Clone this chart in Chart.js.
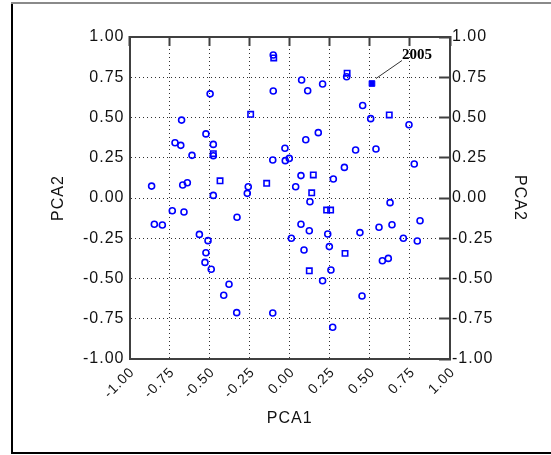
<!DOCTYPE html>
<html>
<head>
<meta charset="utf-8">
<script src="https://cdn.jsdelivr.net/npm/chart.js@4.4.0/dist/chart.umd.min.js"></script>
<style>
  html, body { margin: 0; padding: 0; background: #fff; }
  canvas { display: block; }
</style>
</head>
<body>
<canvas id="pcaChart" width="551" height="455"></canvas>
<script>
// both axes run -1 .. 1
const axisTicks = [-1.00, -0.75, -0.50, -0.25, 0.00, 0.25, 0.50, 0.75, 1.00];

// open circles
const circleX = [-0.103, 0.355, 0.074, 0.205, 0.112, -0.103, -0.497, 0.455, -0.675, 0.505,
  0.744, 0.178, -0.523, 0.100, -0.477, -0.716, -0.680, -0.030, 0.538, 0.411,
  -0.477, -0.610, -0.106, -0.003, -0.028, 0.777, 0.341, 0.070, 0.272, -0.668,
  -0.639, -0.862, -0.259, 0.037, -0.265, -0.477, 0.126, 0.626, -0.733, -0.660,
  -0.329, 0.813, -0.845, -0.795, 0.070, 0.638, 0.557, 0.122, 0.438, 0.237,
  -0.564, -0.510, 0.010, 0.709, 0.796, 0.247, 0.089, -0.523, 0.615, 0.578,
  -0.529, -0.490, 0.257, 0.205, -0.379, -0.412, 0.451, -0.331, -0.106, 0.268];
const circleY = [0.888, 0.753, 0.733, 0.708, 0.666, 0.665, 0.647, 0.575, 0.484, 0.493,
  0.455, 0.406, 0.398, 0.362, 0.333, 0.343, 0.327, 0.309, 0.304, 0.298,
  0.262, 0.265, 0.236, 0.246, 0.232, 0.211, 0.190, 0.139, 0.118, 0.081,
  0.095, 0.074, 0.070, 0.070, 0.029, 0.016, -0.023, -0.029, -0.079, -0.087,
  -0.120, -0.141, -0.163, -0.168, -0.163, -0.166, -0.182, -0.203, -0.215, -0.224,
  -0.226, -0.265, -0.250, -0.250, -0.267, -0.302, -0.323, -0.340, -0.375, -0.390,
  -0.400, -0.443, -0.447, -0.514, -0.536, -0.604, -0.609, -0.712, -0.714, -0.803];

// open squares
const squareX = [-0.100, 0.358, -0.244, 0.621, -0.477, 0.147, -0.435, -0.144, 0.137, 0.230, 0.255, 0.345, 0.122];
const squareY = [0.870, 0.775, 0.520, 0.516, 0.275, 0.143, 0.107, 0.091, 0.032, -0.075, -0.075, -0.344, -0.452];

// highlighted year
const markLabel = '2005';
const markX = [0.513];
const markY = [0.711];

const toPoints = (xs, ys) => xs.map((x, i) => ({ x: x, y: ys[i] }));

const labelFont = { family: '"Liberation Sans", Arial, sans-serif', size: 16 };
const xLabelFont = { family: '"Liberation Sans", Arial, sans-serif', size: 14 };
const lineColor = '#404040';

const framePlugin = {
  id: 'frame',
  beforeDraw(chart) {
    const ctx = chart.ctx;
    ctx.save();
    ctx.fillStyle = '#fff';
    ctx.fillRect(0, 0, chart.width, chart.height);
    ctx.lineWidth = 2;
    ctx.strokeStyle = '#8a8a8a';
    ctx.beginPath();
    ctx.moveTo(11, 3);
    ctx.lineTo(chart.width, 3);
    ctx.stroke();
    ctx.strokeStyle = '#000';
    ctx.beginPath();
    ctx.moveTo(12, 4);
    ctx.lineTo(12, 453);
    ctx.lineTo(chart.width, 453);
    ctx.stroke();
    ctx.restore();
    ctx.letterSpacing = '1px';
  }
};

const notePlugin = {
  id: 'note',
  afterDatasetsDraw(chart) {
    const { ctx, scales: { x, y } } = chart;
    const px = x.getPixelForValue(markX[0]);
    const py = y.getPixelForValue(markY[0]);
    ctx.save();
    ctx.letterSpacing = '0px';
    ctx.strokeStyle = '#333';
    ctx.lineWidth = 1;
    ctx.beginPath();
    ctx.moveTo(px + 4, py - 5);
    ctx.lineTo(px + 30, py - 23);
    ctx.stroke();
    ctx.font = 'bold 15px "Liberation Serif", serif';
    ctx.fillStyle = '#000';
    ctx.textAlign = 'left';
    ctx.textBaseline = 'middle';
    ctx.fillText(markLabel, px + 30, py - 28);
    ctx.restore();
  }
};

const setTicks = s => { s.ticks = axisTicks.map(v => ({ value: v })); };
const fmt = v => Number(v).toFixed(2);

new Chart(document.getElementById('pcaChart').getContext('2d'), {
  type: 'scatter',
  data: {
    datasets: [{
      label: 'circles',
      data: toPoints(circleX, circleY),
      pointStyle: 'circle',
      pointRadius: 3,
      borderWidth: 1.6,
      borderColor: '#0000ff',
      backgroundColor: 'transparent'
    }, {
      label: 'squares',
      data: toPoints(squareX, squareY),
      pointStyle: 'rect',
      pointRadius: 3.8,
      borderWidth: 1.6,
      borderColor: '#0000ff',
      backgroundColor: 'transparent'
    }, {
      label: markLabel,
      data: toPoints(markX, markY),
      pointStyle: 'rect',
      pointRadius: 4,
      borderWidth: 1,
      borderColor: '#0000ff',
      backgroundColor: '#0000ff'
    }]
  },
  options: {
    responsive: false,
    animation: false,
    layout: { padding: { top: 37, left: 0, right: 0, bottom: 0 } },
    plugins: { legend: { display: false }, tooltip: { enabled: false } },
    scales: {
      x: {
        type: 'linear', position: 'bottom', min: -1, max: 1,
        afterBuildTicks: setTicks,
        afterFit: s => { s.height = 96; },
        grid: { color: '#303030', lineWidth: 1, drawTicks: false },
        border: { color: lineColor, width: 2, dash: [1, 3] },
        ticks: { minRotation: 45, maxRotation: 45, padding: 5, labelOffset: 3, color: '#111', font: xLabelFont, callback: fmt },
        title: { display: true, text: 'PCA1', color: '#111', font: labelFont, padding: { top: 0, bottom: 27 } }
      },
      xTop: {
        type: 'linear', position: 'top', min: -1, max: 1,
        afterBuildTicks: setTicks,
        afterFit: s => { s.height = 0; },
        grid: { drawOnChartArea: false, drawTicks: true, tickLength: -9, tickWidth: 2, tickColor: lineColor },
        border: { color: lineColor, width: 2 },
        ticks: { display: false }
      },
      y: {
        type: 'linear', position: 'left', min: -1, max: 1,
        afterBuildTicks: setTicks,
        afterFit: s => { s.width = 129.5; },
        grid: { color: '#303030', lineWidth: 1, drawTicks: false },
        border: { color: lineColor, width: 2, dash: [1, 3] },
        ticks: { padding: 5, color: '#111', font: labelFont, callback: fmt },
        title: { display: true, text: 'PCA2', color: '#111', font: labelFont, padding: { top: 49 } }
      },
      yRight: {
        type: 'linear', position: 'right', min: -1, max: 1,
        afterBuildTicks: setTicks,
        afterFit: s => { s.width = 101; },
        grid: { drawOnChartArea: false, drawTicks: true, tickLength: -11, tickWidth: 2, tickColor: lineColor },
        border: { color: lineColor, width: 2 },
        ticks: { padding: 13, color: '#111', font: labelFont, callback: fmt },
        title: { display: true, text: 'PCA2', color: '#111', font: labelFont, padding: { top: 22 } }
      }
    }
  },
  plugins: [framePlugin, notePlugin]
});
</script>
</body>
</html>
